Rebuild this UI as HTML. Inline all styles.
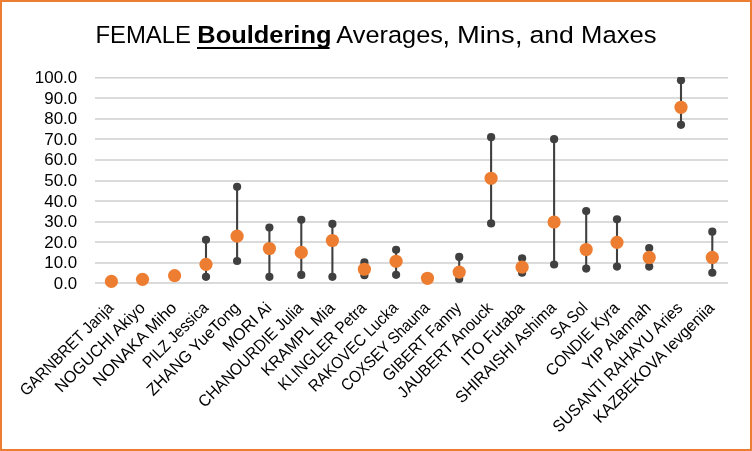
<!DOCTYPE html>
<html><head><meta charset="utf-8"><title>Chart</title>
<style>
html,body{margin:0;padding:0;background:#fff;}
body{width:752px;height:451px;overflow:hidden;position:relative;font-family:"Liberation Sans",sans-serif;}
#frame{position:absolute;left:0;top:0;width:748px;height:447px;border:2px solid #ED7D31;background:#fff;}
svg{position:absolute;left:0;top:0;will-change:transform;}
text{font-family:"Liberation Sans",sans-serif;}
.ax{font-size:16.5px;fill:#000;}
.cat{font-size:16.5px;fill:#000;}
.ttl{font-size:24.5px;fill:#000;}
</style></head><body>
<div id="frame"></div>
<svg width="752" height="451" viewBox="0 0 752 451">

<rect x="95" y="282" width="633" height="2" fill="#DBDBDB"/>
<rect x="95" y="262" width="633" height="2" fill="#DBDBDB"/>
<rect x="95" y="241" width="633" height="2" fill="#DBDBDB"/>
<rect x="95" y="221" width="633" height="2" fill="#DBDBDB"/>
<rect x="95" y="200" width="633" height="2" fill="#DBDBDB"/>
<rect x="95" y="180" width="633" height="2" fill="#DBDBDB"/>
<rect x="95" y="159" width="633" height="2" fill="#DBDBDB"/>
<rect x="95" y="138" width="633" height="2" fill="#DBDBDB"/>
<rect x="95" y="118" width="633" height="2" fill="#DBDBDB"/>
<rect x="95" y="97" width="633" height="2" fill="#DBDBDB"/>
<rect x="95" y="77" width="633" height="1" fill="#D2D2D2"/><rect x="95" y="78" width="633" height="1" fill="#E6E6E6"/>
<text class="ax" x="77.2" y="288.85" text-anchor="end" textLength="23.4" lengthAdjust="spacingAndGlyphs">0.0</text>
<text class="ax" x="77.2" y="267.85" text-anchor="end" textLength="32.9" lengthAdjust="spacingAndGlyphs">10.0</text>
<text class="ax" x="77.2" y="247.85" text-anchor="end" textLength="32.9" lengthAdjust="spacingAndGlyphs">20.0</text>
<text class="ax" x="77.2" y="226.85" text-anchor="end" textLength="32.9" lengthAdjust="spacingAndGlyphs">30.0</text>
<text class="ax" x="77.2" y="206.85" text-anchor="end" textLength="32.9" lengthAdjust="spacingAndGlyphs">40.0</text>
<text class="ax" x="77.2" y="185.85" text-anchor="end" textLength="32.9" lengthAdjust="spacingAndGlyphs">50.0</text>
<text class="ax" x="77.2" y="164.85" text-anchor="end" textLength="32.9" lengthAdjust="spacingAndGlyphs">60.0</text>
<text class="ax" x="77.2" y="144.85" text-anchor="end" textLength="32.9" lengthAdjust="spacingAndGlyphs">70.0</text>
<text class="ax" x="77.2" y="123.85" text-anchor="end" textLength="32.9" lengthAdjust="spacingAndGlyphs">80.0</text>
<text class="ax" x="77.2" y="103.85" text-anchor="end" textLength="32.9" lengthAdjust="spacingAndGlyphs">90.0</text>
<text class="ax" x="77.2" y="82.85" text-anchor="end" textLength="42.4" lengthAdjust="spacingAndGlyphs">100.0</text>
<text class="ttl" x="95.4" y="43.3" textLength="95.6" lengthAdjust="spacingAndGlyphs">FEMALE</text>
<text class="ttl" x="197.3" y="43.3" font-weight="bold" textLength="134.2" lengthAdjust="spacingAndGlyphs">Bouldering</text>
<rect x="197" y="47" width="132.6" height="2" fill="#000"/>
<text class="ttl" x="336.3" y="43.3" textLength="106.6" lengthAdjust="spacingAndGlyphs">Averages</text>
<text class="ttl" x="442.6" y="44.1" style="font-size:27px">,</text>
<text class="ttl" x="457" y="43.3" textLength="57.6" lengthAdjust="spacingAndGlyphs">Mins</text>
<text class="ttl" x="514.9" y="44.1" style="font-size:27px">,</text>
<text class="ttl" x="529.5" y="43.3" textLength="44.4" lengthAdjust="spacingAndGlyphs">and</text>
<text class="ttl" x="581.1" y="43.3" textLength="75.4" lengthAdjust="spacingAndGlyphs">Maxes</text>
<defs><clipPath id="pc"><rect x="95" y="77" width="633" height="214"/></clipPath></defs>
<g clip-path="url(#pc)">
<line x1="206.00" x2="206.00" y1="239.87" y2="276.84" stroke="#404040" stroke-width="2.1"/>
<circle cx="206.00" cy="239.87" r="4.1" fill="#404040"/>
<circle cx="206.00" cy="276.84" r="4.1" fill="#404040"/>
<line x1="237.10" x2="237.10" y1="186.87" y2="261.02" stroke="#404040" stroke-width="2.1"/>
<circle cx="237.10" cy="186.87" r="4.1" fill="#404040"/>
<circle cx="237.10" cy="261.02" r="4.1" fill="#404040"/>
<line x1="269.40" x2="269.40" y1="227.54" y2="276.84" stroke="#404040" stroke-width="2.1"/>
<circle cx="269.40" cy="227.54" r="4.1" fill="#404040"/>
<circle cx="269.40" cy="276.84" r="4.1" fill="#404040"/>
<line x1="301.30" x2="301.30" y1="219.74" y2="274.89" stroke="#404040" stroke-width="2.1"/>
<circle cx="301.30" cy="219.74" r="4.1" fill="#404040"/>
<circle cx="301.30" cy="274.89" r="4.1" fill="#404040"/>
<line x1="332.40" x2="332.40" y1="223.95" y2="276.84" stroke="#404040" stroke-width="2.1"/>
<circle cx="332.40" cy="223.95" r="4.1" fill="#404040"/>
<circle cx="332.40" cy="276.84" r="4.1" fill="#404040"/>
<line x1="364.40" x2="364.40" y1="262.46" y2="275.19" stroke="#404040" stroke-width="2.1"/>
<circle cx="364.40" cy="262.46" r="4.1" fill="#404040"/>
<circle cx="364.40" cy="275.19" r="4.1" fill="#404040"/>
<line x1="396.10" x2="396.10" y1="249.73" y2="274.78" stroke="#404040" stroke-width="2.1"/>
<circle cx="396.10" cy="249.73" r="4.1" fill="#404040"/>
<circle cx="396.10" cy="274.78" r="4.1" fill="#404040"/>
<line x1="459.20" x2="459.20" y1="256.91" y2="278.89" stroke="#404040" stroke-width="2.1"/>
<circle cx="459.20" cy="256.91" r="4.1" fill="#404040"/>
<circle cx="459.20" cy="278.89" r="4.1" fill="#404040"/>
<line x1="491.10" x2="491.10" y1="137.17" y2="223.43" stroke="#404040" stroke-width="2.1"/>
<circle cx="491.10" cy="137.17" r="4.1" fill="#404040"/>
<circle cx="491.10" cy="223.43" r="4.1" fill="#404040"/>
<line x1="522.10" x2="522.10" y1="258.35" y2="272.73" stroke="#404040" stroke-width="2.1"/>
<circle cx="522.10" cy="258.35" r="4.1" fill="#404040"/>
<circle cx="522.10" cy="272.73" r="4.1" fill="#404040"/>
<line x1="554.10" x2="554.10" y1="139.22" y2="264.51" stroke="#404040" stroke-width="2.1"/>
<circle cx="554.10" cy="139.22" r="4.1" fill="#404040"/>
<circle cx="554.10" cy="264.51" r="4.1" fill="#404040"/>
<line x1="586.20" x2="586.20" y1="211.11" y2="268.62" stroke="#404040" stroke-width="2.1"/>
<circle cx="586.20" cy="211.11" r="4.1" fill="#404040"/>
<circle cx="586.20" cy="268.62" r="4.1" fill="#404040"/>
<line x1="617.00" x2="617.00" y1="219.33" y2="266.57" stroke="#404040" stroke-width="2.1"/>
<circle cx="617.00" cy="219.33" r="4.1" fill="#404040"/>
<circle cx="617.00" cy="266.57" r="4.1" fill="#404040"/>
<line x1="649.20" x2="649.20" y1="248.08" y2="266.57" stroke="#404040" stroke-width="2.1"/>
<circle cx="649.20" cy="248.08" r="4.1" fill="#404040"/>
<circle cx="649.20" cy="266.57" r="4.1" fill="#404040"/>
<line x1="681.00" x2="681.00" y1="80.27" y2="124.84" stroke="#404040" stroke-width="2.1"/>
<circle cx="681.00" cy="80.27" r="4.1" fill="#404040"/>
<circle cx="681.00" cy="124.84" r="4.1" fill="#404040"/>
<line x1="712.30" x2="712.30" y1="231.65" y2="272.73" stroke="#404040" stroke-width="2.1"/>
<circle cx="712.30" cy="231.65" r="4.1" fill="#404040"/>
<circle cx="712.30" cy="272.73" r="4.1" fill="#404040"/>
<circle cx="111.40" cy="281.40" r="6.6" fill="#ED7D31"/>
<circle cx="142.50" cy="279.30" r="6.6" fill="#ED7D31"/>
<circle cx="174.60" cy="275.61" r="6.6" fill="#ED7D31"/>
<circle cx="206.00" cy="264.31" r="6.6" fill="#ED7D31"/>
<circle cx="237.10" cy="236.17" r="6.6" fill="#ED7D31"/>
<circle cx="269.40" cy="248.49" r="6.6" fill="#ED7D31"/>
<circle cx="301.30" cy="252.40" r="6.6" fill="#ED7D31"/>
<circle cx="332.40" cy="240.48" r="6.6" fill="#ED7D31"/>
<circle cx="364.40" cy="269.24" r="6.6" fill="#ED7D31"/>
<circle cx="396.10" cy="261.23" r="6.6" fill="#ED7D31"/>
<circle cx="427.50" cy="278.28" r="6.6" fill="#ED7D31"/>
<circle cx="459.20" cy="272.11" r="6.6" fill="#ED7D31"/>
<circle cx="491.10" cy="178.25" r="6.6" fill="#ED7D31"/>
<circle cx="522.10" cy="267.18" r="6.6" fill="#ED7D31"/>
<circle cx="554.10" cy="222.00" r="6.6" fill="#ED7D31"/>
<circle cx="586.20" cy="249.52" r="6.6" fill="#ED7D31"/>
<circle cx="617.00" cy="242.33" r="6.6" fill="#ED7D31"/>
<circle cx="649.20" cy="257.47" r="6.6" fill="#ED7D31"/>
<circle cx="681.00" cy="107.28" r="6.6" fill="#ED7D31"/>
<circle cx="712.30" cy="257.47" r="6.6" fill="#ED7D31"/>
</g>
<text class="cat" transform="translate(114.41,308.90) rotate(-45)" text-anchor="end" textLength="124.4" lengthAdjust="spacingAndGlyphs">GARNBRET Janja</text>
<text class="cat" transform="translate(146.03,308.90) rotate(-45)" text-anchor="end" textLength="119.4" lengthAdjust="spacingAndGlyphs">NOGUCHI Akiyo</text>
<text class="cat" transform="translate(177.65,308.90) rotate(-45)" text-anchor="end" textLength="110.7" lengthAdjust="spacingAndGlyphs">NONAKA Miho</text>
<text class="cat" transform="translate(209.27,308.90) rotate(-45)" text-anchor="end" textLength="84.9" lengthAdjust="spacingAndGlyphs">PILZ Jessica</text>
<text class="cat" transform="translate(240.89,308.90) rotate(-45)" text-anchor="end" textLength="123.8" lengthAdjust="spacingAndGlyphs">ZHANG YueTong</text>
<text class="cat" transform="translate(272.51,308.90) rotate(-45)" text-anchor="end" textLength="61.3" lengthAdjust="spacingAndGlyphs">MORI Ai</text>
<text class="cat" transform="translate(304.13,308.90) rotate(-45)" text-anchor="end" textLength="140.5" lengthAdjust="spacingAndGlyphs">CHANOURDIE Julia</text>
<text class="cat" transform="translate(335.75,308.90) rotate(-45)" text-anchor="end" textLength="96.3" lengthAdjust="spacingAndGlyphs">KRAMPL Mia</text>
<text class="cat" transform="translate(367.37,308.90) rotate(-45)" text-anchor="end" textLength="116.8" lengthAdjust="spacingAndGlyphs">KLINGLER Petra</text>
<text class="cat" transform="translate(398.99,308.90) rotate(-45)" text-anchor="end" textLength="118.7" lengthAdjust="spacingAndGlyphs">RAKOVEC Lucka</text>
<text class="cat" transform="translate(430.61,308.90) rotate(-45)" text-anchor="end" textLength="117.7" lengthAdjust="spacingAndGlyphs">COXSEY Shauna</text>
<text class="cat" transform="translate(462.23,308.90) rotate(-45)" text-anchor="end" textLength="103.6" lengthAdjust="spacingAndGlyphs">GIBERT Fanny</text>
<text class="cat" transform="translate(493.85,308.90) rotate(-45)" text-anchor="end" textLength="126.9" lengthAdjust="spacingAndGlyphs">JAUBERT Anouck</text>
<text class="cat" transform="translate(525.47,308.90) rotate(-45)" text-anchor="end" textLength="81.5" lengthAdjust="spacingAndGlyphs">ITO Futaba</text>
<text class="cat" transform="translate(557.09,308.90) rotate(-45)" text-anchor="end" textLength="134.5" lengthAdjust="spacingAndGlyphs">SHIRAISHI Ashima</text>
<text class="cat" transform="translate(588.71,308.90) rotate(-45)" text-anchor="end" textLength="45.1" lengthAdjust="spacingAndGlyphs">SA Sol</text>
<text class="cat" transform="translate(620.33,308.90) rotate(-45)" text-anchor="end" textLength="96.3" lengthAdjust="spacingAndGlyphs">CONDIE Kyra</text>
<text class="cat" transform="translate(651.95,308.90) rotate(-45)" text-anchor="end" textLength="88.9" lengthAdjust="spacingAndGlyphs">YIP Alannah</text>
<text class="cat" transform="translate(683.57,308.90) rotate(-45)" text-anchor="end" textLength="175.7" lengthAdjust="spacingAndGlyphs">SUSANTI RAHAYU Aries</text>
<text class="cat" transform="translate(715.19,308.90) rotate(-45)" text-anchor="end" textLength="162.8" lengthAdjust="spacingAndGlyphs">KAZBEKOVA Ievgeniia</text>
</svg></body></html>
